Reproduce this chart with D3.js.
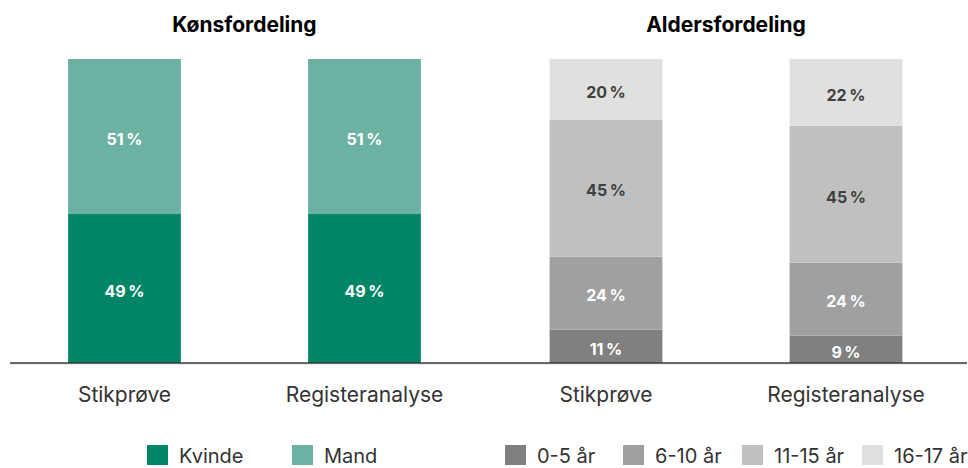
<!DOCTYPE html>
<html><head><meta charset="utf-8">
<script src="https://cdn.jsdelivr.net/npm/d3@7"></script>
<style>body{margin:0;background:#fff}svg{display:block;font-family:Inter,"Noto Sans",sans-serif}</style>
</head><body><svg id="c" width="968" height="468"></svg>
<script>
const categories = ["Stikprøve", "Registeranalyse"];
const genderKeys = ["Kvinde", "Mand"];
const genderKvinde = [49, 49];
const genderMand = [51, 51];
const ageKeys = ["0-5 år", "6-10 år", "11-15 år", "16-17 år"];
const age0_5 = [11, 9];
const age6_10 = [24, 24];
const age11_15 = [45, 45];
const age16_17 = [20, 22];
const genderColors = ["#008566", "#6bb2a3"];
const ageColors = ["#808080", "#a0a0a0", "#c0c0c0", "#e0e0e0"];
const ageLabelColors = ["#fff", "#fff", "#404040", "#404040"];
const genderLabelColors = ["#fff", "#fff"];

const svg = d3.select("#c");
const y = d3.scaleLinear().domain([0, 100]).range([363, 59]);

function panel(x0, x1, title, keys, series, colors, labelColors) {
  const x = d3.scaleBand().domain(categories).range([x0, x1]).paddingInner(0.53).paddingOuter(0.265);
  const rows = categories.map((c, i) => { const r = {cat: c}; keys.forEach((k, j) => r[k] = series[j][i]); return r; });
  const stacked = d3.stack().keys(keys)(rows);
  const g = svg.append("g");
  stacked.forEach((layer, li) => {
    g.selectAll(null).data(layer).join("rect")
      .attr("x", d => x(d.data.cat)).attr("width", x.bandwidth())
      .attr("y", d => y(d[1])).attr("height", d => y(d[0]) - y(d[1]))
      .attr("fill", colors[li]);
    g.selectAll(null).data(layer).join("text")
      .attr("x", d => x(d.data.cat) + x.bandwidth() / 2)
      .attr("y", d => (y(d[0]) + y(d[1])) / 2 + 2.5)
      .attr("dy", "0.36em").attr("text-anchor", "middle")
      .attr("font-size", 16).attr("font-weight", 700)
      .attr("fill", labelColors[li])
      .text(d => (d[1] - d[0]) + "\u2009%");
  });
  g.append("text").attr("x", (x0 + x1) / 2).attr("y", 32).attr("text-anchor", "middle")
    .attr("font-size", 21).attr("font-weight", 700).attr("fill", "#000").text(title);
  const ax = g.append("g").attr("transform", "translate(0,363)")
    .call(d3.axisBottom(x).tickSize(0).tickPadding(0));
  ax.select(".domain").remove();
  ax.selectAll("text").attr("font-size", 21).attr("fill", "#333")
    .attr("font-family", "Inter, 'Noto Sans', sans-serif").attr("dy", 0).attr("y", 39);
}

panel(4.5, 484.5, "Kønsfordeling", genderKeys, [genderKvinde, genderMand], genderColors, genderLabelColors);
panel(486, 966, "Aldersfordeling", ageKeys, [age0_5, age6_10, age11_15, age16_17], ageColors, ageLabelColors);

// baseline
svg.append("line").attr("x1", 10).attr("x2", 967).attr("y1", 364).attr("y2", 364)
  .attr("stroke", "#ddd").attr("stroke-width", 1);
svg.append("line").attr("x1", 10).attr("x2", 967).attr("y1", 363).attr("y2", 363)
  .attr("stroke", "#3a3a3a").attr("stroke-width", 1.5);

// legends
const legendItems = [
  {label: genderKeys[0], color: genderColors[0], x: 147},
  {label: genderKeys[1], color: genderColors[1], x: 292},
  {label: ageKeys[0], color: ageColors[0], x: 505},
  {label: ageKeys[1], color: ageColors[1], x: 623},
  {label: ageKeys[2], color: ageColors[2], x: 742},
  {label: ageKeys[3], color: ageColors[3], x: 862}
];
const lg = svg.append("g").selectAll("g").data(legendItems).join("g")
  .attr("transform", d => `translate(${d.x},445)`);
lg.append("rect").attr("width", 21).attr("height", 20).attr("fill", d => d.color);
lg.append("text").attr("x", 32).attr("y", 11).attr("dy", "0.36em")
  .attr("font-size", 20).attr("fill", "#333").text(d => d.label);
</script></body></html>
